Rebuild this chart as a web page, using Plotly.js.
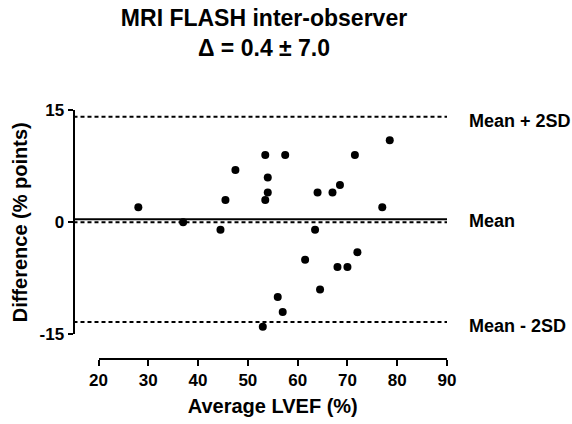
<!DOCTYPE html>
<html>
<head>
<meta charset="utf-8">
<script src="https://cdn.plot.ly/plotly-3.0.1.min.js"></script>
<style>html,body{margin:0;padding:0;background:#fff;}#chart{width:572px;height:424px;}</style>
</head>
<body>
<div id="chart"></div>
<script>
// ---- data ----
const avgLVEF = [28, 37, 44.5, 45.5, 47.5, 53.5, 54, 54, 53.5, 57.5, 78.5, 71.5, 64, 67, 68.5, 77, 63.5, 72, 61.5, 68, 70, 64.5, 56, 57, 53];
const diffPts = [2, 0, -1, 3, 7, 9, 6, 4, 3, 9, 11, 9, 4, 4, 5, 2, -1, -4, -5, -6, -6, -9, -10, -12, -14];
const xTicks = [20, 30, 40, 50, 60, 70, 80, 90];
const yTicks = [-15, 0, 15];
const lineLabels = ['Mean + 2SD', 'Mean', 'Mean - 2SD'];
const titleLines = ['MRI FLASH inter-observer', 'Δ = 0.4 ± 7.0'];
const xTitle = 'Average LVEF (%)';
const yTitle = 'Difference (% points)';

// bias and limits of agreement computed from the differences
const n = diffPts.length;
const bias = diffPts.reduce((a, b) => a + b, 0) / n;
const sd = Math.sqrt(diffPts.reduce((a, b) => a + (b - bias) * (b - bias), 0) / (n - 1));
const upper = bias + 1.96 * sd;
const lower = bias - 1.96 * sd;

// ---- layout helpers ----
const W = 572, H = 424;
const fx = px => px / W;
const fy = py => 1 - py / H;
const FONT = 'Liberation Sans, Arial, Helvetica, sans-serif';

const xDomain = [fx(98.5), fx(447)];
const yAxisPos = fx(73.5);
const xAxisPos = fy(359);

const trace = {
  x: avgLVEF, y: diffPts, type: 'scatter', mode: 'markers',
  marker: {color: '#000', size: 8},
  cliponaxis: false, hoverinfo: 'skip'
};

function hline(y, dashed) {
  return {
    type: 'line', xref: 'paper', yref: 'y',
    x0: yAxisPos, x1: xDomain[1], y0: y, y1: y,
    line: {color: '#000', width: 2, dash: dashed ? '4px,3px' : 'solid'}
  };
}

const shapes = [
  hline(upper, true),
  hline(0, true),
  hline(bias, false),
  hline(lower, true)
];

const labelYs = [upper, bias, lower];
const annotations = lineLabels.map((t, i) => ({
  text: t, xref: 'paper', yref: 'y', x: fx(466.5), y: labelYs[i],
  xanchor: 'left', yanchor: 'middle', yshift: i === 1 ? -2 : -4, showarrow: false,
  font: {family: FONT, size: 18, color: '#000', weight: 'bold'}
}));

const layout = {
  width: W, height: H, autosize: false,
  margin: {l: 0, r: 0, t: 0, b: 0},
  paper_bgcolor: '#fff', plot_bgcolor: 'rgba(0,0,0,0)',
  showlegend: false,
  title: {
    text: titleLines.join('<br>'),
    x: fx(264), xref: 'container', xanchor: 'center',
    y: fy(26), yref: 'container', yanchor: 'top',
    font: {family: FONT, size: 23, color: '#000', weight: 'bold'}
  },
  xaxis: {
    domain: xDomain, range: [20, 90], anchor: 'free', position: xAxisPos,
    showline: true, linecolor: '#000', linewidth: 2,
    ticks: 'outside', ticklen: 6, tickwidth: 2, tickcolor: '#000',
    tickmode: 'array', tickvals: xTicks, ticktext: xTicks.map(String),
    tickfont: {family: FONT, size: 17, color: '#000', weight: 'bold'},
    showgrid: false, zeroline: false, fixedrange: true,
    title: {text: xTitle, standoff: 9, font: {family: FONT, size: 20, color: '#000', weight: 'bold'}}
  },
  yaxis: {
    domain: [fy(334.3), fy(110.3)], range: [-15, 15], anchor: 'free', position: yAxisPos,
    showline: true, linecolor: '#000', linewidth: 2,
    ticks: 'outside', ticklen: 5, tickwidth: 2, tickcolor: '#000',
    tickmode: 'array', tickvals: yTicks, ticktext: yTicks.map(String),
    tickfont: {family: FONT, size: 17, color: '#000', weight: 'bold'},
    showgrid: false, zeroline: false, fixedrange: true,
    title: {text: yTitle, standoff: 6, font: {family: FONT, size: 20, color: '#000', weight: 'bold'}}
  },
  shapes: shapes,
  annotations: annotations
};

Plotly.newPlot('chart', [trace], layout, {displayModeBar: false, staticPlot: true});
</script>
</body>
</html>
